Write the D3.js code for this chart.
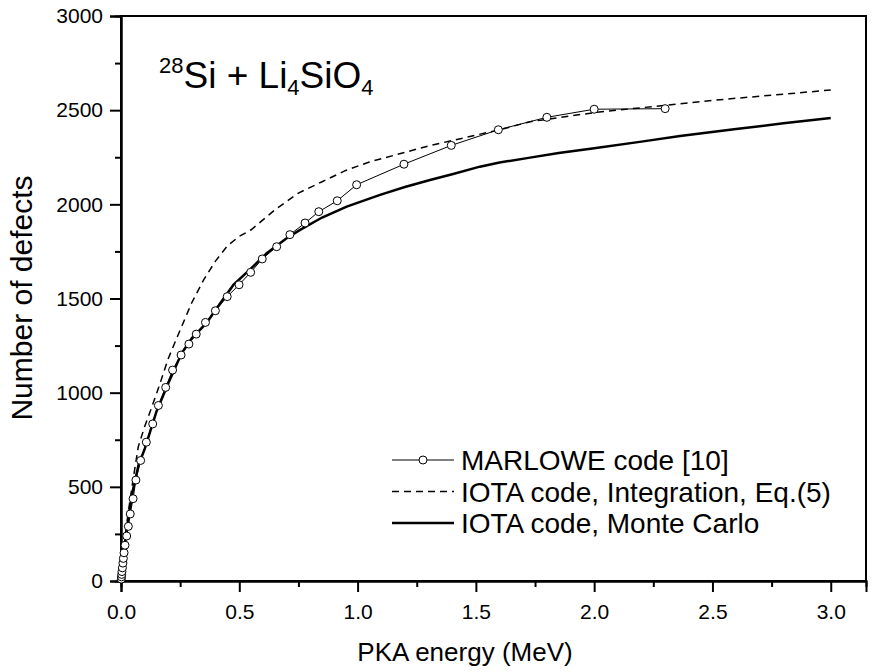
<!DOCTYPE html>
<html><head><meta charset="utf-8">
<script src="https://cdn.jsdelivr.net/npm/d3@7"></script>
<style>body{margin:0;background:#fff}svg{display:block}text{font-family:"Liberation Sans",Arial,sans-serif;fill:#000}</style>
</head><body><svg id="c" width="882" height="672"></svg>
<script>
const xTicks = [0,0.5,1.0,1.5,2.0,2.5,3.0];
const yTicks = [0,500,1000,1500,2000,2500,3000];
const marloweE = [0.001,0.002,0.003,0.004,0.006,0.008,0.010,0.013,0.017,0.024,0.031,0.039,0.051,0.063,0.083,0.107,0.134,0.158,0.189,0.218,0.254,0.287,0.318,0.357,0.399,0.449,0.499,0.548,0.597,0.658,0.714,0.778,0.836,0.914,0.996,1.196,1.396,1.595,1.8,2.0,2.3];
const marloweV = [10,22,35,50,70,95,120,150,190,239,290,356,437,536,640,737,834,932,1028,1120,1200,1258,1311,1373,1435,1510,1573,1639,1710,1775,1839,1901,1961,2019,2104,2213,2313,2396,2462,2505,2508];
const integE = [0,0.01,0.02,0.03,0.05,0.073,0.1,0.115,0.158,0.2,0.25,0.3,0.35,0.4,0.45,0.5,0.55,0.65,0.75,0.85,0.95,1.05,1.3,1.6,1.73,2.0,2.5,3.0];
const integV = [0,150,260,360,530,713,820,870,1023,1182,1333,1480,1600,1700,1780,1830,1865,1970,2060,2120,2180,2225,2310,2396,2439,2487,2552,2607];
const mcE = [0,0.005,0.01,0.02,0.03,0.05,0.075,0.1,0.15,0.2,0.256,0.3,0.362,0.4,0.475,0.55,0.616,0.7,0.757,0.85,0.954,1.095,1.2,1.306,1.4,1.517,1.6,1.729,1.85,2.0,2.2,2.363,2.6,2.8,3.0];
const mcV = [0,60,120,230,320,480,620,700,900,1050,1209,1290,1370,1440,1572,1660,1740,1820,1864,1930,1988,2050,2092,2129,2160,2200,2222,2248,2272,2298,2333,2363,2400,2430,2458];
const legendLabels = ["MARLOWE code [10]","IOTA code, Integration, Eq.(5)","IOTA code, Monte Carlo"];

const svg = d3.select("#c");
const L=121, R=866, T=16, B=581;
const x = d3.scaleLinear().domain([0,3.149]).range([L,R]);
const y = d3.scaleLinear().domain([0,3000]).range([B,T]);

svg.append("rect").attr("x",L).attr("y",T).attr("width",R-L).attr("height",B-T)
 .attr("fill","none").attr("stroke","#000").attr("stroke-width",2);

svg.append("g").attr("transform",`translate(0,${B})`)
 .call(d3.axisBottom(x).tickValues(xTicks).tickFormat(d3.format(".1f")).tickSize(11).tickPadding(12));
svg.append("g").attr("transform",`translate(0,${B})`)
 .call(d3.axisBottom(x).tickValues([0.25,0.75,1.25,1.75,2.25,2.75]).tickFormat("").tickSize(6));
svg.append("g").attr("transform",`translate(${L},0)`)
 .call(d3.axisLeft(y).tickValues(yTicks).tickFormat(d3.format("d")).tickSize(11).tickPadding(7));
svg.append("g").attr("transform",`translate(${L},0)`)
 .call(d3.axisLeft(y).tickValues([250,750,1250,1750,2250,2750]).tickFormat("").tickSize(6));
svg.selectAll(".domain").attr("stroke","#000").attr("stroke-width",2);
svg.selectAll(".tick line").attr("stroke","#000").attr("stroke-width",2);
svg.selectAll(".tick text").attr("font-size",21).attr("font-family","Liberation Sans, Arial, sans-serif").attr("fill","#000");

svg.append("text").attr("x",465).attr("y",661).attr("text-anchor","middle").attr("font-size",26).text("PKA energy (MeV)");
svg.append("text").attr("transform","translate(32,298) rotate(-90)").attr("text-anchor","middle").attr("font-size",30).text("Number of defects");

const ann = svg.append("text").attr("x",159).attr("y",88).attr("font-size",37);
ann.append("tspan").attr("font-size",22).attr("dy",-15).text("28");
ann.append("tspan").attr("dy",15).text("Si + Li");
ann.append("tspan").attr("font-size",22).attr("dy",7).text("4");
ann.append("tspan").attr("dy",-7).text("SiO");
ann.append("tspan").attr("font-size",22).attr("dy",7).text("4");

const line = d3.line().x(d=>x(d[0])).y(d=>y(d[1]));
svg.append("clipPath").attr("id","cp").append("rect").attr("x",L).attr("y",T).attr("width",R-L).attr("height",B-T);
const plot = svg.append("g").attr("clip-path","url(#cp)");

plot.append("path").datum(d3.zip(integE,integV)).attr("d",line).attr("fill","none")
 .attr("stroke","#000").attr("stroke-width",1.5).attr("stroke-dasharray","7,5");
plot.append("path").datum(d3.zip(mcE,mcV)).attr("d",line).attr("fill","none")
 .attr("stroke","#000").attr("stroke-width",2.5);
const md = d3.zip(marloweE,marloweV);
plot.append("path").datum(md).attr("d",line).attr("fill","none").attr("stroke","#000").attr("stroke-width",1);
svg.append("g").selectAll("circle").data(md).join("circle")
 .attr("cx",d=>x(d[0])).attr("cy",d=>y(d[1])).attr("r",4)
 .attr("fill","#fff").attr("stroke","#000").attr("stroke-width",1);

const lg = svg.append("g");
const ly=[460,491.5,523], lx0=392, lx1=454;
lg.append("line").attr("x1",lx0).attr("x2",lx1).attr("y1",ly[0]).attr("y2",ly[0]).attr("stroke","#000").attr("stroke-width",1);
lg.append("circle").attr("cx",(lx0+lx1)/2).attr("cy",ly[0]).attr("r",4).attr("fill","#fff").attr("stroke","#000");
lg.append("line").attr("x1",lx0).attr("x2",lx1).attr("y1",ly[1]).attr("y2",ly[1]).attr("stroke","#000").attr("stroke-width",1.5).attr("stroke-dasharray","7,5");
lg.append("line").attr("x1",lx0).attr("x2",lx1).attr("y1",ly[2]).attr("y2",ly[2]).attr("stroke","#000").attr("stroke-width",2.5);
lg.selectAll("text.lt").data(legendLabels).join("text").attr("class","lt")
 .attr("x",461).attr("y",(d,i)=>ly[i]+10).attr("font-size",28).text(d=>d);
</script></body></html>
